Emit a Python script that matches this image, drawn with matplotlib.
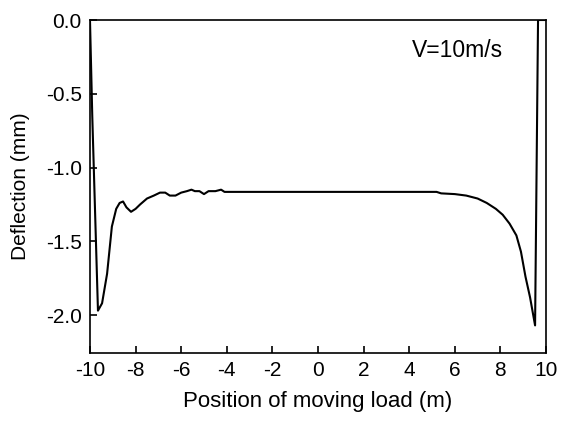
import matplotlib.pyplot as plt

plt.rcParams['font.family'] = ['Liberation Sans', 'DejaVu Sans']

# Odczytane punkty krzywej ugięcia
position = [-10.0, -9.9, -9.65, -9.47, -9.25, -9.04, -8.85, -8.7, -8.55, -8.4,
            -8.2, -8.0, -7.8, -7.5, -7.2, -6.93, -6.7, -6.5, -6.25, -6.0,
            -5.75, -5.55, -5.4, -5.2, -5.0, -4.8, -4.5, -4.25, -4.1, 5.2,
            5.4, 6.0, 6.5, 7.0, 7.4, 7.8, 8.1, 8.4, 8.7, 8.9,
            9.1, 9.3, 9.52, 9.65, 10.0]
deflection = [0.0, -0.65, -1.97, -1.92, -1.72, -1.40, -1.28, -1.24, -1.23, -1.27,
              -1.30, -1.28, -1.25, -1.21, -1.19, -1.17, -1.17, -1.19, -1.19, -1.17,
              -1.16, -1.15, -1.16, -1.16, -1.18, -1.16, -1.16, -1.15, -1.165, -1.165,
              -1.175, -1.18, -1.19, -1.21, -1.24, -1.28, -1.32, -1.38, -1.46, -1.57,
              -1.74, -1.88, -2.07, 0.0, 0.0]

xticks = [-10, -8, -6, -4, -2, 0, 2, 4, 6, 8, 10]
yticks = [0.0, -0.5, -1.0, -1.5, -2.0]

fig = plt.figure(figsize=(5.61, 4.23), dpi=100)
ax = fig.add_axes([0.1604, 0.1655, 0.8129, 0.7872])
ax.plot(position, deflection, color='black', lw=1.5)

ax.set_xlim(-10, 10)
ax.set_ylim(-2.257, 0)
ax.set_xticks(xticks)
ax.set_xticklabels([str(t) for t in xticks])
ax.set_yticks(yticks)
ax.set_yticklabels([f'{t:.1f}' for t in yticks])

ax.tick_params(direction='in', length=5, width=1.2, labelsize=15, pad=6)
for s in ax.spines.values():
    s.set_linewidth(1.2)

ax.set_xlabel('Position of moving load (m)', fontsize=16, labelpad=8)
ax.set_ylabel('Deflection (mm)', fontsize=15, labelpad=11)
ax.text(4.12, -0.21, 'V=10m/s', fontsize=16.5, va='center')

fig.savefig('out.png', dpi=100)
